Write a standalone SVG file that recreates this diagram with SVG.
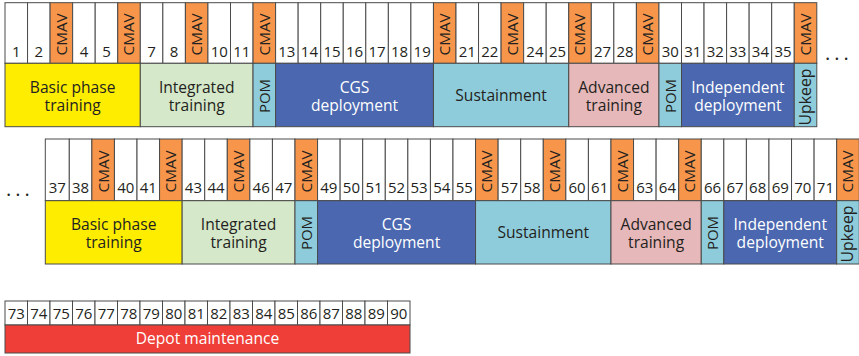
<svg xmlns="http://www.w3.org/2000/svg" width="859" height="356" viewBox="0 0 859 356">
<style>
rect{stroke:#4a4a4a;stroke-width:1}
.w{fill:#ffffff}
.o{fill:#F7964B}
.y{fill:#FFED00}
.g{fill:#D5E8C9}
.lb{fill:#8FCCDB}
.db{fill:#4A67B0}
.pk{fill:#E7B8B9}
.rd{fill:#EE3E37}
text{font-family:'Open Sans','Liberation Sans',sans-serif;fill:#231F20}
.n{font-size:15px;text-anchor:middle}
.v{font-size:15.3px;text-anchor:start}
.r{font-size:15px;text-anchor:middle}
.l{font-size:15.6px;text-anchor:middle}
.wt{fill:#ffffff}
.dots{font-size:20px;letter-spacing:4px}
</style>

<g id="row1-weeks">
<rect class="w" x="5" y="2.7" width="22.55" height="60.6"/>
<rect class="w" x="27.55" y="2.7" width="22.55" height="60.6"/>
<rect class="o" x="50.1" y="2.7" width="22.55" height="60.6"/>
<rect class="w" x="72.65" y="2.7" width="22.55" height="60.6"/>
<rect class="w" x="95.2" y="2.7" width="22.55" height="60.6"/>
<rect class="o" x="117.75" y="2.7" width="22.55" height="60.6"/>
<rect class="w" x="140.3" y="2.7" width="22.55" height="60.6"/>
<rect class="w" x="162.85" y="2.7" width="22.55" height="60.6"/>
<rect class="o" x="185.4" y="2.7" width="22.55" height="60.6"/>
<rect class="w" x="207.95" y="2.7" width="22.55" height="60.6"/>
<rect class="w" x="230.5" y="2.7" width="22.55" height="60.6"/>
<rect class="o" x="253.05" y="2.7" width="22.55" height="60.6"/>
<rect class="w" x="275.6" y="2.7" width="22.55" height="60.6"/>
<rect class="w" x="298.15" y="2.7" width="22.55" height="60.6"/>
<rect class="w" x="320.7" y="2.7" width="22.55" height="60.6"/>
<rect class="w" x="343.25" y="2.7" width="22.55" height="60.6"/>
<rect class="w" x="365.8" y="2.7" width="22.55" height="60.6"/>
<rect class="w" x="388.35" y="2.7" width="22.55" height="60.6"/>
<rect class="w" x="410.9" y="2.7" width="22.55" height="60.6"/>
<rect class="o" x="433.45" y="2.7" width="22.55" height="60.6"/>
<rect class="w" x="456" y="2.7" width="22.55" height="60.6"/>
<rect class="w" x="478.55" y="2.7" width="22.55" height="60.6"/>
<rect class="o" x="501.1" y="2.7" width="22.55" height="60.6"/>
<rect class="w" x="523.65" y="2.7" width="22.55" height="60.6"/>
<rect class="w" x="546.2" y="2.7" width="22.55" height="60.6"/>
<rect class="o" x="568.75" y="2.7" width="22.55" height="60.6"/>
<rect class="w" x="591.3" y="2.7" width="22.55" height="60.6"/>
<rect class="w" x="613.85" y="2.7" width="22.55" height="60.6"/>
<rect class="o" x="636.4" y="2.7" width="22.55" height="60.6"/>
<rect class="w" x="658.95" y="2.7" width="22.55" height="60.6"/>
<rect class="w" x="681.5" y="2.7" width="22.55" height="60.6"/>
<rect class="w" x="704.05" y="2.7" width="22.55" height="60.6"/>
<rect class="w" x="726.6" y="2.7" width="22.55" height="60.6"/>
<rect class="w" x="749.15" y="2.7" width="22.55" height="60.6"/>
<rect class="w" x="771.7" y="2.7" width="22.55" height="60.6"/>
<rect class="o" x="794.25" y="2.7" width="22.55" height="60.6"/>
<text class="n" x="16.28" y="57">1</text>
<text class="n" x="38.83" y="57">2</text>
<text class="n" x="83.93" y="57">4</text>
<text class="n" x="106.48" y="57">5</text>
<text class="n" x="151.58" y="57">7</text>
<text class="n" x="174.13" y="57">8</text>
<text class="n" x="219.23" y="57">10</text>
<text class="n" x="241.78" y="57">11</text>
<text class="n" x="286.88" y="57">13</text>
<text class="n" x="309.43" y="57">14</text>
<text class="n" x="331.98" y="57">15</text>
<text class="n" x="354.53" y="57">16</text>
<text class="n" x="377.08" y="57">17</text>
<text class="n" x="399.63" y="57">18</text>
<text class="n" x="422.18" y="57">19</text>
<text class="n" x="467.28" y="57">21</text>
<text class="n" x="489.83" y="57">22</text>
<text class="n" x="534.93" y="57">24</text>
<text class="n" x="557.48" y="57">25</text>
<text class="n" x="602.58" y="57">27</text>
<text class="n" x="625.13" y="57">28</text>
<text class="n" x="670.23" y="57">30</text>
<text class="n" x="692.78" y="57">31</text>
<text class="n" x="715.33" y="57">32</text>
<text class="n" x="737.88" y="57">33</text>
<text class="n" x="760.43" y="57">34</text>
<text class="n" x="782.98" y="57">35</text>
<text class="v" transform="translate(66.8,55.5) rotate(-90)">CMAV</text>
<text class="v" transform="translate(134.45,55.5) rotate(-90)">CMAV</text>
<text class="v" transform="translate(202.1,55.5) rotate(-90)">CMAV</text>
<text class="v" transform="translate(269.75,55.5) rotate(-90)">CMAV</text>
<text class="v" transform="translate(450.15,55.5) rotate(-90)">CMAV</text>
<text class="v" transform="translate(517.8,55.5) rotate(-90)">CMAV</text>
<text class="v" transform="translate(585.45,55.5) rotate(-90)">CMAV</text>
<text class="v" transform="translate(653.1,55.5) rotate(-90)">CMAV</text>
<text class="v" transform="translate(810.95,55.5) rotate(-90)">CMAV</text>
<text class="dots" x="825" y="60">...</text>
</g>

<g id="row1-basic"><rect class="y" x="5" y="63.3" width="135.3" height="63.4"/><text class="l" x="72.65" y="92.5">Basic phase</text><text class="l" x="72.65" y="111">training</text></g>
<g id="row1-integrated"><rect class="g" x="140.3" y="63.3" width="112.75" height="63.4"/><text class="l" x="196.68" y="92.5">Integrated</text><text class="l" x="196.68" y="111">training</text></g>
<g id="row1-pom1"><rect class="lb" x="253.05" y="63.3" width="22.55" height="63.4"/><text class="r" transform="translate(269.65,96) rotate(-90)">POM</text></g>
<g id="row1-cgs"><rect class="db" x="275.6" y="63.3" width="157.85" height="63.4"/><text class="l wt" x="354.53" y="92.5">CGS</text><text class="l wt" x="354.53" y="111">deployment</text></g>
<g id="row1-sustainment"><rect class="lb" x="433.45" y="63.3" width="135.3" height="63.4"/><text class="l" x="501.1" y="101">Sustainment</text></g>
<g id="row1-advanced"><rect class="pk" x="568.75" y="63.3" width="90.2" height="63.4"/><text class="l" x="613.85" y="92.5">Advanced</text><text class="l" x="613.85" y="111">training</text></g>
<g id="row1-pom2"><rect class="lb" x="658.95" y="63.3" width="22.55" height="63.4"/><text class="r" transform="translate(675.55,96) rotate(-90)">POM</text></g>
<g id="row1-independent"><rect class="db" x="681.5" y="63.3" width="112.75" height="63.4"/><text class="l wt" x="737.88" y="92.5">Independent</text><text class="l wt" x="737.88" y="111">deployment</text></g>
<g id="row1-upkeep"><rect class="lb" x="794.25" y="63.3" width="22.55" height="63.4"/><text class="r" transform="translate(810.85,97) rotate(-90)" style="font-size:15.8px">Upkeep</text></g>

<g id="row2-weeks">
<rect class="w" x="45.3" y="139" width="24" height="61.7"/>
<rect class="w" x="69.3" y="139" width="22.57" height="61.7"/>
<rect class="o" x="91.87" y="139" width="22.57" height="61.7"/>
<rect class="w" x="114.44" y="139" width="22.57" height="61.7"/>
<rect class="w" x="137.01" y="139" width="22.57" height="61.7"/>
<rect class="o" x="159.58" y="139" width="22.57" height="61.7"/>
<rect class="w" x="182.15" y="139" width="22.57" height="61.7"/>
<rect class="w" x="204.72" y="139" width="22.57" height="61.7"/>
<rect class="o" x="227.29" y="139" width="22.57" height="61.7"/>
<rect class="w" x="249.86" y="139" width="22.57" height="61.7"/>
<rect class="w" x="272.43" y="139" width="22.57" height="61.7"/>
<rect class="o" x="295" y="139" width="22.57" height="61.7"/>
<rect class="w" x="317.57" y="139" width="22.57" height="61.7"/>
<rect class="w" x="340.14" y="139" width="22.57" height="61.7"/>
<rect class="w" x="362.71" y="139" width="22.57" height="61.7"/>
<rect class="w" x="385.28" y="139" width="22.57" height="61.7"/>
<rect class="w" x="407.85" y="139" width="22.57" height="61.7"/>
<rect class="w" x="430.42" y="139" width="22.57" height="61.7"/>
<rect class="w" x="452.99" y="139" width="22.57" height="61.7"/>
<rect class="o" x="475.56" y="139" width="22.57" height="61.7"/>
<rect class="w" x="498.13" y="139" width="22.57" height="61.7"/>
<rect class="w" x="520.7" y="139" width="22.57" height="61.7"/>
<rect class="o" x="543.27" y="139" width="22.57" height="61.7"/>
<rect class="w" x="565.84" y="139" width="22.57" height="61.7"/>
<rect class="w" x="588.41" y="139" width="22.57" height="61.7"/>
<rect class="o" x="610.98" y="139" width="22.57" height="61.7"/>
<rect class="w" x="633.55" y="139" width="22.57" height="61.7"/>
<rect class="w" x="656.12" y="139" width="22.57" height="61.7"/>
<rect class="o" x="678.69" y="139" width="22.57" height="61.7"/>
<rect class="w" x="701.26" y="139" width="22.57" height="61.7"/>
<rect class="w" x="723.83" y="139" width="22.57" height="61.7"/>
<rect class="w" x="746.4" y="139" width="22.57" height="61.7"/>
<rect class="w" x="768.97" y="139" width="22.57" height="61.7"/>
<rect class="w" x="791.54" y="139" width="22.57" height="61.7"/>
<rect class="w" x="814.11" y="139" width="22.57" height="61.7"/>
<rect class="o" x="836.68" y="139" width="22.57" height="61.7"/>
<text class="n" x="57.3" y="192.5">37</text>
<text class="n" x="80.59" y="192.5">38</text>
<text class="n" x="125.73" y="192.5">40</text>
<text class="n" x="148.3" y="192.5">41</text>
<text class="n" x="193.44" y="192.5">43</text>
<text class="n" x="216" y="192.5">44</text>
<text class="n" x="261.15" y="192.5">46</text>
<text class="n" x="283.72" y="192.5">47</text>
<text class="n" x="328.86" y="192.5">49</text>
<text class="n" x="351.43" y="192.5">50</text>
<text class="n" x="374" y="192.5">51</text>
<text class="n" x="396.57" y="192.5">52</text>
<text class="n" x="419.14" y="192.5">53</text>
<text class="n" x="441.71" y="192.5">54</text>
<text class="n" x="464.28" y="192.5">55</text>
<text class="n" x="509.42" y="192.5">57</text>
<text class="n" x="531.99" y="192.5">58</text>
<text class="n" x="577.13" y="192.5">60</text>
<text class="n" x="599.7" y="192.5">61</text>
<text class="n" x="644.84" y="192.5">63</text>
<text class="n" x="667.41" y="192.5">64</text>
<text class="n" x="712.55" y="192.5">66</text>
<text class="n" x="735.12" y="192.5">67</text>
<text class="n" x="757.69" y="192.5">68</text>
<text class="n" x="780.26" y="192.5">69</text>
<text class="n" x="802.83" y="192.5">70</text>
<text class="n" x="825.4" y="192.5">71</text>
<text class="v" transform="translate(108.56,192.5) rotate(-90)">CMAV</text>
<text class="v" transform="translate(176.27,192.5) rotate(-90)">CMAV</text>
<text class="v" transform="translate(243.98,192.5) rotate(-90)">CMAV</text>
<text class="v" transform="translate(311.69,192.5) rotate(-90)">CMAV</text>
<text class="v" transform="translate(492.25,192.5) rotate(-90)">CMAV</text>
<text class="v" transform="translate(559.96,192.5) rotate(-90)">CMAV</text>
<text class="v" transform="translate(627.67,192.5) rotate(-90)">CMAV</text>
<text class="v" transform="translate(695.38,192.5) rotate(-90)">CMAV</text>
<text class="v" transform="translate(853.37,192.5) rotate(-90)">CMAV</text>
<text class="dots" x="6" y="196">...</text>
</g>

<g id="row2-basic"><rect class="y" x="45.3" y="200.7" width="136.85" height="63.3"/><text class="l" x="113.7" y="229.5">Basic phase</text><text class="l" x="113.7" y="248">training</text></g>
<g id="row2-integrated"><rect class="g" x="182.15" y="200.7" width="112.85" height="63.3"/><text class="l" x="238.58" y="229.5">Integrated</text><text class="l" x="238.58" y="248">training</text></g>
<g id="row2-pom1"><rect class="lb" x="295" y="200.7" width="22.57" height="63.3"/><text class="r" transform="translate(311.59,233) rotate(-90)">POM</text></g>
<g id="row2-cgs"><rect class="db" x="317.57" y="200.7" width="157.99" height="63.3"/><text class="l wt" x="396.57" y="229.5">CGS</text><text class="l wt" x="396.57" y="248">deployment</text></g>
<g id="row2-sustainment"><rect class="lb" x="475.56" y="200.7" width="135.42" height="63.3"/><text class="l" x="543.27" y="238">Sustainment</text></g>
<g id="row2-advanced"><rect class="pk" x="610.98" y="200.7" width="90.28" height="63.3"/><text class="l" x="656.12" y="229.5">Advanced</text><text class="l" x="656.12" y="248">training</text></g>
<g id="row2-pom2"><rect class="lb" x="701.26" y="200.7" width="22.57" height="63.3"/><text class="r" transform="translate(717.85,233) rotate(-90)">POM</text></g>
<g id="row2-independent"><rect class="db" x="723.83" y="200.7" width="112.85" height="63.3"/><text class="l wt" x="780.26" y="229.5">Independent</text><text class="l wt" x="780.26" y="248">deployment</text></g>
<g id="row2-upkeep"><rect class="lb" x="836.68" y="200.7" width="22.57" height="63.3"/><text class="r" transform="translate(853.27,234) rotate(-90)" style="font-size:15.8px">Upkeep</text></g>

<g id="row3-weeks">
<rect class="w" x="5" y="301" width="22.5" height="24"/>
<rect class="w" x="27.5" y="301" width="22.5" height="24"/>
<rect class="w" x="50" y="301" width="22.5" height="24"/>
<rect class="w" x="72.5" y="301" width="22.5" height="24"/>
<rect class="w" x="95" y="301" width="22.5" height="24"/>
<rect class="w" x="117.5" y="301" width="22.5" height="24"/>
<rect class="w" x="140" y="301" width="22.5" height="24"/>
<rect class="w" x="162.5" y="301" width="22.5" height="24"/>
<rect class="w" x="185" y="301" width="22.5" height="24"/>
<rect class="w" x="207.5" y="301" width="22.5" height="24"/>
<rect class="w" x="230" y="301" width="22.5" height="24"/>
<rect class="w" x="252.5" y="301" width="22.5" height="24"/>
<rect class="w" x="275" y="301" width="22.5" height="24"/>
<rect class="w" x="297.5" y="301" width="22.5" height="24"/>
<rect class="w" x="320" y="301" width="22.5" height="24"/>
<rect class="w" x="342.5" y="301" width="22.5" height="24"/>
<rect class="w" x="365" y="301" width="22.5" height="24"/>
<rect class="w" x="387.5" y="301" width="22.5" height="24"/>
<text class="n" x="16.25" y="319.3">73</text>
<text class="n" x="38.75" y="319.3">74</text>
<text class="n" x="61.25" y="319.3">75</text>
<text class="n" x="83.75" y="319.3">76</text>
<text class="n" x="106.25" y="319.3">77</text>
<text class="n" x="128.75" y="319.3">78</text>
<text class="n" x="151.25" y="319.3">79</text>
<text class="n" x="173.75" y="319.3">80</text>
<text class="n" x="196.25" y="319.3">81</text>
<text class="n" x="218.75" y="319.3">82</text>
<text class="n" x="241.25" y="319.3">83</text>
<text class="n" x="263.75" y="319.3">84</text>
<text class="n" x="286.25" y="319.3">85</text>
<text class="n" x="308.75" y="319.3">86</text>
<text class="n" x="331.25" y="319.3">87</text>
<text class="n" x="353.75" y="319.3">88</text>
<text class="n" x="376.25" y="319.3">89</text>
<text class="n" x="398.75" y="319.3">90</text>
</g>
<g id="row3-depot"><rect class="rd" x="5" y="325" width="405" height="28"/><text class="l wt" x="207.5" y="344">Depot maintenance</text></g>
</svg>
